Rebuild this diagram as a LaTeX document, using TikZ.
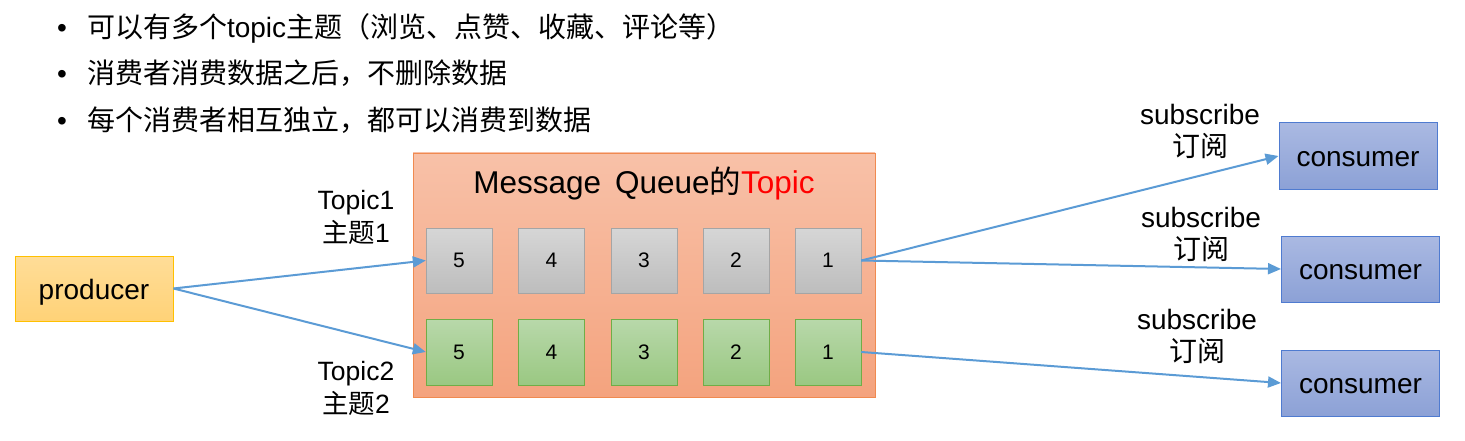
\documentclass[tikz,border=0pt]{standalone}
\usepackage{fontspec}
\setmainfont{Liberation Sans}
\newfontfamily\cjk{Noto Sans CJK SC}
\usepackage{xcolor}
\usepackage{tikz}
\usetikzlibrary{arrows.meta}

\definecolor{lineblue}{HTML}{5B9BD5}
\definecolor{qtop}{HTML}{F8C1A8}
\definecolor{qbot}{HTML}{F4A37E}
\definecolor{qline}{HTML}{F08A50}
\definecolor{gtop}{HTML}{D6D6D6}
\definecolor{gbot}{HTML}{BDBDBD}
\definecolor{gline}{HTML}{A5A5A5}
\definecolor{ntop}{HTML}{B8D8AA}
\definecolor{nbot}{HTML}{9AC882}
\definecolor{nline}{HTML}{70AD47}
\definecolor{ptop}{HTML}{FFDD98}
\definecolor{pbot}{HTML}{FFD277}
\definecolor{pline}{HTML}{FFC000}
\definecolor{ctop}{HTML}{AAB9E2}
\definecolor{cbot}{HTML}{8CA1D6}
\definecolor{cline}{HTML}{4F7BD0}

\begin{document}
\begin{tikzpicture}[x=1pt, y=-1pt, every node/.style={inner sep=0pt, font=\fontsize{26.5}{33}\selectfont},
  graycell/.style={draw=gline, top color=gtop, bottom color=gbot, minimum width=66pt, minimum height=65pt, font=\fontsize{21}{25}\selectfont},
  greencell/.style={draw=nline, top color=ntop, bottom color=nbot, minimum width=66pt, minimum height=66pt, font=\fontsize{21}{25}\selectfont},
  consumer/.style={draw=cline, line width=1pt, top color=ctop, bottom color=cbot, minimum width=158pt, minimum height=66pt, font=\fontsize{28}{33}\selectfont, text height=23pt, text depth=2pt},
  link/.style={draw=lineblue, line width=2pt, -{Triangle[length=13pt, width=11pt]}}]
\useasboundingbox (0,0) rectangle (1465,441);

% bullet lines
\node(l1)[anchor=west, font=\fontsize{28}{33}\selectfont] at (57,28) {\textbullet\hspace{20pt}{\cjk 可以有多个}topic{\cjk 主题（浏览、点赞、收藏、评论等）}};
\node(l2)[anchor=west, font=\fontsize{28}{33}\selectfont] at (57,73) {\textbullet\hspace{20pt}{\cjk 消费者消费数据之后，不删除数据}};
\node(l3)[anchor=west, font=\fontsize{28}{33}\selectfont] at (57,120) {\textbullet\hspace{20pt}{\cjk 每个消费者相互独立，都可以消费到数据}};

% queue
\node(q)[draw=qline, top color=qtop, bottom color=qbot, minimum width=462pt, minimum height=244pt] at (644,275) {};
\node(title)[font=\fontsize{31.5}{36}\selectfont] at (644,183) {Message\, Queue{\cjk 的}\textcolor{red}{Topic}};

\node(a5)[graycell] at (459,260.5) {5};
\node(a4)[graycell] at (551.5,260.5) {4};
\node(a3)[graycell] at (644,260.5) {3};
\node(a2)[graycell] at (736,260.5) {2};
\node(a1)[graycell] at (828,260.5) {1};

\node(b5)[greencell] at (459,352) {5};
\node(b4)[greencell] at (551.5,352) {4};
\node(b3)[greencell] at (644,352) {3};
\node(b2)[greencell] at (736,352) {2};
\node(b1)[greencell] at (828,352) {1};

% producer and consumers
\node(p)[draw=pline, line width=1pt, top color=ptop, bottom color=pbot, minimum width=158pt, minimum height=65pt, font=\fontsize{28}{33}\selectfont, text height=23pt, text depth=2pt] at (94,288.5) {producer};
\node(c1)[consumer] at (1358,156) {consumer};
\node(c2)[consumer] at (1360.5,269) {consumer};
\node(c3)[consumer] at (1360.5,383) {consumer};

% labels
\node(t1)[align=center] at (356,217.5) {Topic1\\{\cjk 主题}1};
\node(t2)[align=center] at (356,388.5) {Topic2\\{\cjk 主题}2};
\node(s1)[align=center, font=\fontsize{28}{32}\selectfont] at (1200,131) {subscribe\\{\cjk 订阅}};
\node(s2)[align=center, font=\fontsize{28}{32}\selectfont] at (1201,234) {subscribe\\{\cjk 订阅}};
\node(s3)[align=center, font=\fontsize{28}{32}\selectfont] at (1197,336) {subscribe\\{\cjk 订阅}};

\draw[link] (p.east) -- (a5.west);
\draw[link] (p.east) -- (b5.west);
\draw[link] (a1.east) -- (c1.west);
\draw[link] (a1.east) -- (c2.west);
\draw[link] (b1.east) -- (c3.west);
\end{tikzpicture}
\end{document}
